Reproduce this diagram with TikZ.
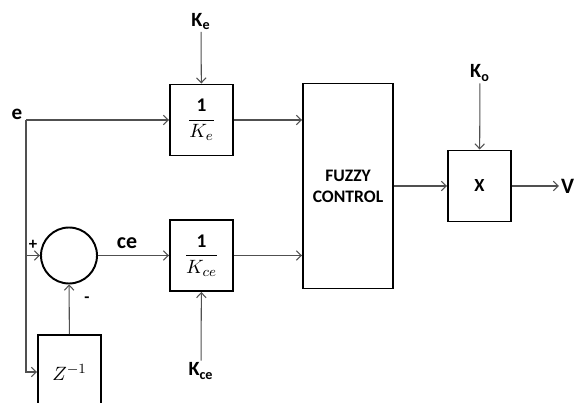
\documentclass[tikz,border=0pt]{standalone}
\usepackage{fontspec}
\setmainfont{Carlito}
\usetikzlibrary{arrows.meta,positioning,calc}
\definecolor{wiregray}{HTML}{505050}

\begin{document}
\begin{tikzpicture}[x=1cm, y=1cm,
  blk/.style={draw,line width=1.1pt,minimum width=1.26cm,minimum height=1.42cm,inner sep=0pt,
    font=\fontsize{11}{13}\selectfont},
  wire/.style={draw=wiregray,line width=0.6pt,-{Straight Barb[length=1mm,width=1.9mm]}},
  lbl/.style={font=\bfseries\fontsize{11.5}{13}\selectfont,inner sep=1pt}]
\useasboundingbox (0,0) rectangle (11.7,8.06);
\clip (0,0) rectangle (11.7,8.06);
% ================= blocks =================
\node[blk] (ke) at (4.03,5.66) {$\displaystyle\frac{\mathbf{1}}{K_e}$};
\node[blk] (kce) at (4.03,2.95) {$\displaystyle\frac{\mathbf{1}}{K_{ce}}$};
\node[blk,minimum width=1.8cm,minimum height=4.1cm,align=center,
  font=\bfseries\fontsize{10}{12}\selectfont] (fuzzy) at (6.96,4.34) {FUZZY\\CONTROL};
\node[blk,font=\bfseries\fontsize{10.5}{12}\selectfont] (mult) at (9.59,4.34) {X};
\node[draw,line width=1.1pt,circle,minimum size=1.12cm,inner sep=0pt] (sum) at (1.38,2.95) {};
\node[blk,minimum height=1.48cm] (zinv) at (1.39,0.62) {$Z^{-1}$};
% ================= labels =================
\node[lbl] (kelbl) at (4.02,7.63) {K\textsubscript{e}};
\node[lbl] (kolbl) at (9.60,6.60) {K\textsubscript{o}};
\node[lbl] (kcelbl) at (4.02,0.64) {K\textsubscript{ce}};
\node[lbl,font=\bfseries\fontsize{12}{14}\selectfont] (elbl) at (0.34,5.78) {e};
\node[lbl,font=\bfseries\fontsize{12.5}{14}\selectfont] (celbl) at (2.54,3.19) {ce};
\node[lbl,font=\bfseries\fontsize{12.5}{14}\selectfont,anchor=west] (vout) at (11.18,4.34) {V};
\node[lbl,font=\bfseries\fontsize{9.5}{10}\selectfont] (plus) at (0.66,3.17) {+};
\node[lbl,font=\bfseries\fontsize{9.5}{10}\selectfont] (minus) at (1.74,2.06) {-};
% taps on the e line
\coordinate (etap) at (0.52,5.66);
\coordinate (sumtap) at (0.52,2.95);
% ================= connectors =================
\draw[wire] (etap) -- (ke);
\draw[draw=wiregray,line width=0.6pt] (etap) -- (sumtap);
\draw[wire] (sumtap) |- (zinv.west);
\draw[wire] (sumtap) -- (sum);
\draw[wire] (zinv) -- (sum);
\draw[wire] (sum) -- (kce);
\draw[wire] (kelbl) -- (ke);
\draw[wire] (kcelbl) -- (kce);
\draw[wire] (kolbl) -- (mult);
\draw[wire] (ke.east) -- (ke.east -| fuzzy.west);
\draw[wire] (kce.east) -- (kce.east -| fuzzy.west);
\draw[wire] (fuzzy) -- (mult);
\draw[wire] (mult) -- (vout);
\end{tikzpicture}
\end{document}
